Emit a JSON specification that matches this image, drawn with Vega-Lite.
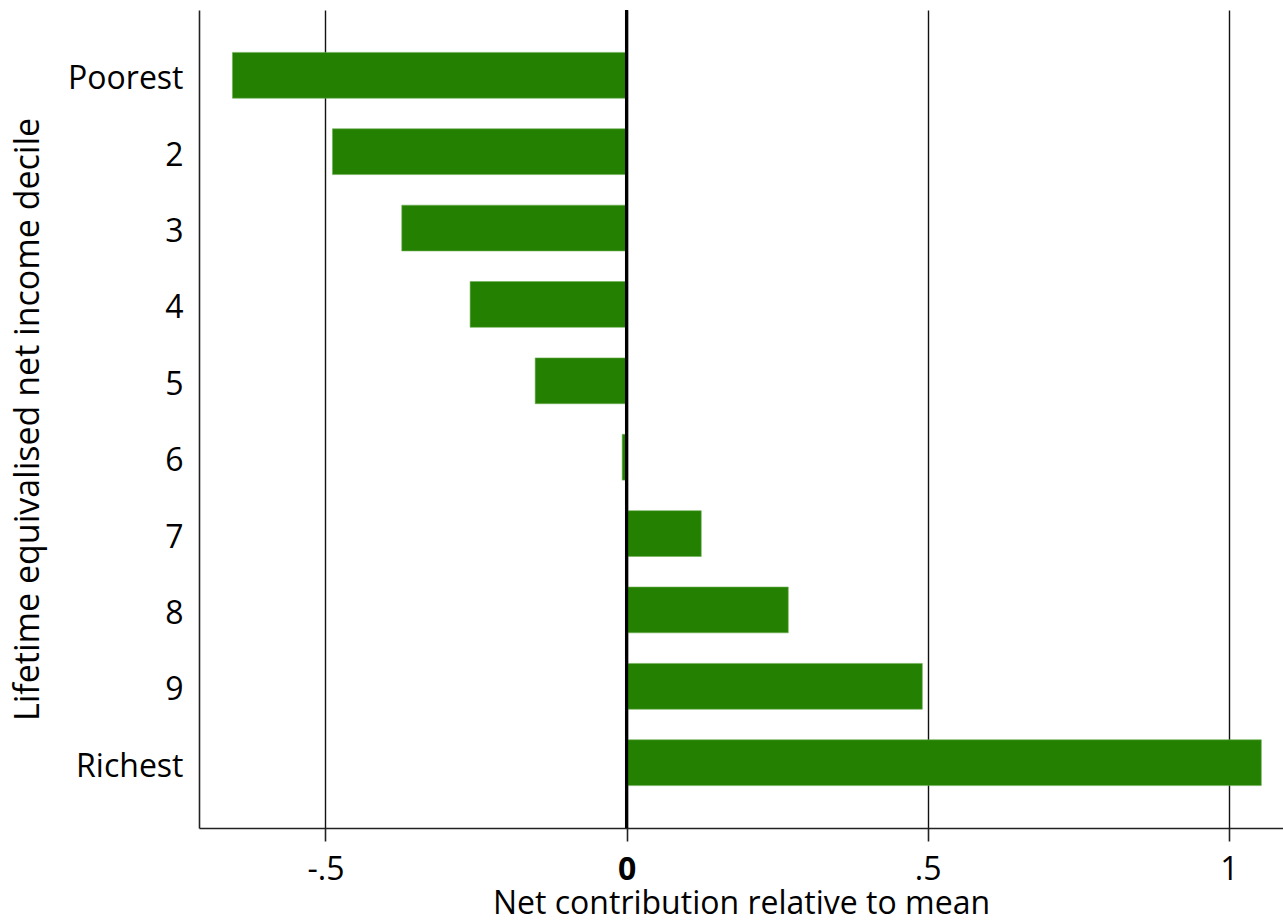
{
  "$schema": "https://vega.github.io/schema/vega-lite/v6.json",
  "autosize": {"type": "none"},
  "padding": {"left": 199, "top": 10, "right": 0, "bottom": 95},
  "width": 1084,
  "height": 818,
  "background": "white",
  "config": {
    "view": {"stroke": null},
    "font": "Open Sans"
  },
  "data": {
    "values": [
      {"decile": "Poorest", "value": -0.6545},
      {"decile": "2", "value": -0.4884},
      {"decile": "3", "value": -0.3733},
      {"decile": "4", "value": -0.2598},
      {"decile": "5", "value": -0.1518},
      {"decile": "6", "value": -0.0073},
      {"decile": "7", "value": 0.124},
      {"decile": "8", "value": 0.2685},
      {"decile": "9", "value": 0.4911},
      {"decile": "Richest", "value": 1.054}
    ]
  },
  "layer": [
    {
      "mark": {"type": "bar", "color": "#238000", "stroke": "#6fae55", "strokeWidth": 0.6},
      "encoding": {
        "y": {
          "field": "decile",
          "type": "nominal",
          "sort": null,
          "scale": {"paddingInner": 0.4, "paddingOuter": 0.555},
          "axis": {
            "title": "Lifetime equivalised net income decile",
            "titleFont": "Open Sans",
            "titleFontSize": 34,
            "titleFontWeight": "normal",
            "titleColor": "#000",
            "titlePadding": 22,
            "labelFont": "Open Sans",
            "labelFontSize": 32,
            "labelColor": "#000",
            "labelPadding": 16,
            "labelOffset": 4,
            "ticks": false,
            "domain": true,
            "domainColor": "#222",
            "domainWidth": 1.6,
            "grid": false
          }
        },
        "x": {
          "field": "value",
          "type": "quantitative",
          "scale": {"domain": [-0.71, 1.09], "nice": false, "zero": false},
          "axis": {
            "title": "Net contribution relative to mean",
            "titleFont": "Open Sans",
            "titleFontSize": 32,
            "titleFontWeight": "normal",
            "titleColor": "#000",
            "titlePadding": 3,
            "values": [-0.5, 0, 0.5, 1],
            "labelExpr": "datum.value == -0.5 ? '-.5' : datum.value == 0.5 ? '.5' : datum.value == 0 ? '0' : '1'",
            "labelFont": "Open Sans",
            "labelFontSize": 32,
            "labelColor": "#000",
            "labelPadding": 13,
            "labelFontWeight": {"condition": {"test": "datum.value === 0", "value": "bold"}, "value": "normal"},
            "ticks": true,
            "tickSize": 13,
            "tickColor": "#222",
            "tickWidth": 1.6,
            "domain": true,
            "domainColor": "#222",
            "domainWidth": 1.6,
            "grid": true,
            "gridColor": "#111",
            "gridWidth": 1.4
          }
        }
      }
    },
    {
      "data": {"values": [{"v": 0}]},
      "mark": {"type": "rule", "color": "#000", "strokeWidth": 3.2},
      "encoding": {"x": {"field": "v", "type": "quantitative"}}
    }
  ]
}
